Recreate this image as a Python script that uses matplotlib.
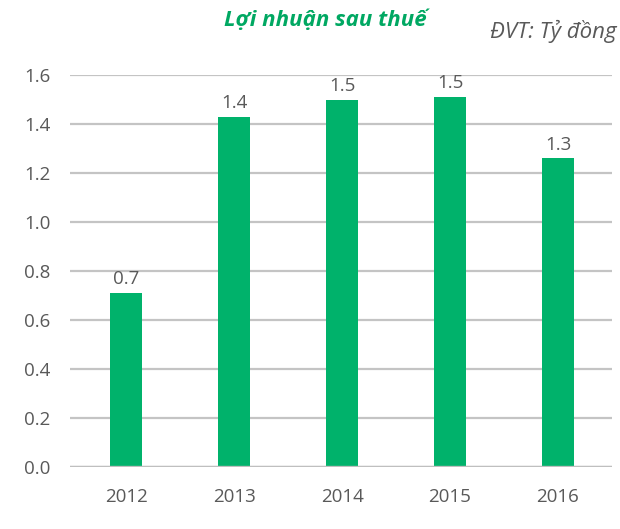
import matplotlib.pyplot as plt

years = ["2012", "2013", "2014", "2015", "2016"]
profit = [0.71, 1.43, 1.50, 1.51, 1.26]
yticks = [0.0, 0.2, 0.4, 0.6, 0.8, 1.0, 1.2, 1.4, 1.6]

plt.rcParams["font.family"] = ["Open Sans", "DejaVu Sans"]
txt = "#595959"
green = "#00b26b"

fig = plt.figure(figsize=(6.2, 5.29), dpi=100)
ax = fig.add_axes([0.113, 0.117, 0.874, 0.741])

x = range(len(years))
bars = ax.bar(x, profit, width=0.3, color=green, zorder=3)
for xi, v in zip(x, profit):
    ax.text(xi, v + 0.02, f"{v:.1f}", ha="center", va="bottom",
            fontsize=13.5, color=txt)

ax.set_ylim(0, 1.6)
ax.set_xlim(-0.52, 4.5)
ax.set_yticks(yticks)
ax.set_yticklabels([f"{t:.1f}" for t in yticks])
ax.set_xticks(list(x))
ax.set_xticklabels(years)
ax.tick_params(length=0, labelsize=13.5, colors=txt)
ax.tick_params(axis="x", pad=15)
ax.tick_params(axis="y", pad=14)
ax.yaxis.grid(True, color="#c4c4c4", linewidth=1.6, zorder=0)
ax.axhline(0, color="#bfbfbf", linewidth=2.4, zorder=4)
for s in ax.spines.values():
    s.set_visible(False)

fig.text(0.525, 0.962, "Lợi nhuận sau thuế", ha="center", va="center",
         fontsize=16, fontweight="bold", style="italic", color="#00a862")
fig.text(0.995, 0.94, "ĐVT: Tỷ đồng", ha="right", va="center",
         fontsize=16, style="italic", color=txt)

fig.savefig("out.png", dpi=100)
